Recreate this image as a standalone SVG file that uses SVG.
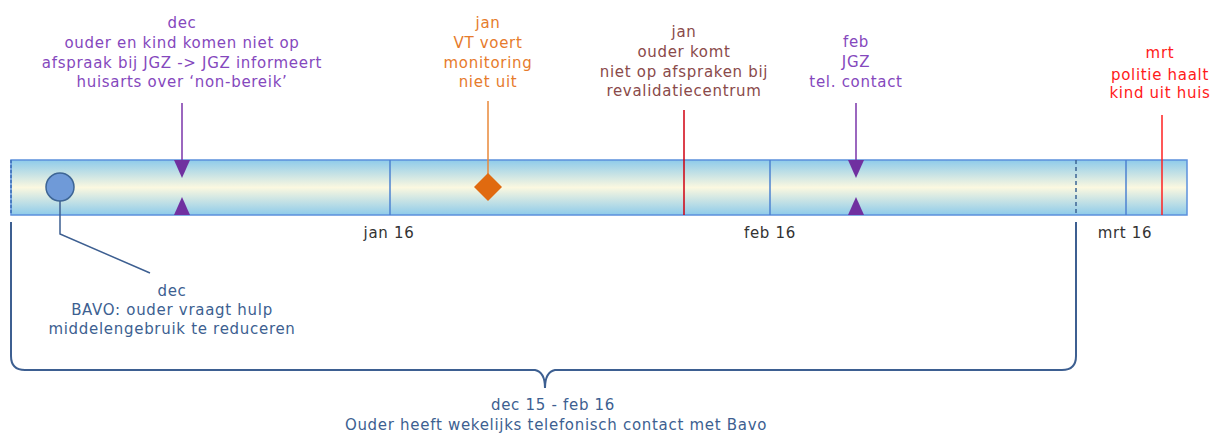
<svg xmlns="http://www.w3.org/2000/svg" width="1215" height="434" viewBox="0 0 1215 434">
<defs>
<linearGradient id="barGrad" x1="0" y1="0" x2="0" y2="1">
<stop offset="0" stop-color="#8ecbea"/>
<stop offset="0.5" stop-color="#fbf8e0"/>
<stop offset="1" stop-color="#8ecbea"/>
</linearGradient>
</defs>
<style>
text{font-family:"DejaVu Sans",Verdana,sans-serif;font-size:15px;letter-spacing:0.7px;text-anchor:middle}
.purple{fill:#8548bd}
.orange{fill:#e67b2c}
.brown{fill:#8a4a4a}
.red{fill:#ff1a1a}
.blue{fill:#3d5f91}
.axis{fill:#333333}
.sep{stroke:#4d82d0;stroke-width:1.5}
</style>
<g id="timeline">
<rect x="11" y="160" width="1176" height="55" fill="url(#barGrad)" stroke="#5b90dc" stroke-width="1.5"/>
<line x1="11" y1="160" x2="11" y2="215" stroke="#3d6fb8" stroke-width="1.5" stroke-dasharray="3,2"/>
<line class="sep" x1="390" y1="160" x2="390" y2="215"/>
<line class="sep" x1="770" y1="160" x2="770" y2="215"/>
<line x1="1076" y1="160" x2="1076" y2="215" stroke="#3d6595" stroke-width="1.5" stroke-dasharray="4,3"/>
<line class="sep" x1="1126" y1="160" x2="1126" y2="215"/>
<text class="axis" x="389" y="238">jan 16</text>
<text class="axis" x="770" y="238">feb 16</text>
<text class="axis" x="1125" y="238">mrt 16</text>
</g>
<g id="connectors">
<polyline points="60,201 60,234 150,273" fill="none" stroke="#3d5f91" stroke-width="1.5"/>
<line x1="182" y1="103" x2="182" y2="162" stroke="#7a35aa" stroke-width="1.5"/>
<line x1="488" y1="101" x2="488" y2="176" stroke="#e8883a" stroke-width="1.5"/>
<line x1="684" y1="110" x2="684" y2="215" stroke="#d00010" stroke-width="1.5"/>
<line x1="856" y1="103" x2="856" y2="162" stroke="#7a35aa" stroke-width="1.5"/>
<line x1="1162" y1="115" x2="1162" y2="215" stroke="#ff2020" stroke-width="1.5"/>
<path d="M11,222 V356 Q11,370 25,370 H535 Q545,372 545,388 Q545,372 555,370 H1062 Q1076,370 1076,356 V222" fill="none" stroke="#3d5f91" stroke-width="2"/>
</g>
<g id="node-bavo">
<circle cx="60" cy="187" r="14" fill="#6f9ad8" stroke="#3d6595" stroke-width="1.5"/>
<text class="blue" x="172" y="296">dec</text>
<text class="blue" x="172" y="315">BAVO: ouder vraagt hulp</text>
<text class="blue" x="172" y="334">middelengebruik te reduceren</text>
</g>
<g id="node-jgz-dec">
<polygon points="174,160 190,160 182,178" fill="#7030a0"/>
<polygon points="174,215 190,215 182,197" fill="#7030a0"/>
<text class="purple" x="182" y="28">dec</text>
<text class="purple" x="182" y="48">ouder en kind komen niet op</text>
<text class="purple" x="182" y="68">afspraak bij JGZ -&gt; JGZ informeert</text>
<text class="purple" x="182" y="87">huisarts over ‘non-bereik’</text>
</g>
<g id="node-vt">
<polygon points="488,173 502,187 488,201 474,187" fill="#e06a10"/>
<text class="orange" x="488" y="28">jan</text>
<text class="orange" x="488" y="48">VT voert</text>
<text class="orange" x="488" y="68">monitoring</text>
<text class="orange" x="488" y="87">niet uit</text>
</g>
<g id="node-revalidatie">
<text class="brown" x="684" y="37">jan</text>
<text class="brown" x="684" y="57">ouder komt</text>
<text class="brown" x="684" y="77">niet op afspraken bij</text>
<text class="brown" x="684" y="96">revalidatiecentrum</text>
</g>
<g id="node-jgz-feb">
<polygon points="848,160 864,160 856,178" fill="#7030a0"/>
<polygon points="848,215 864,215 856,197" fill="#7030a0"/>
<text class="purple" x="856" y="47">feb</text>
<text class="purple" x="856" y="67">JGZ</text>
<text class="purple" x="856" y="87">tel. contact</text>
</g>
<g id="node-politie">
<text class="red" x="1160" y="58">mrt</text>
<text class="red" x="1160" y="80">politie haalt</text>
<text class="red" x="1160" y="98">kind uit huis</text>
</g>
<g id="node-period">
<text class="blue" x="553" y="410">dec 15 - feb 16</text>
<text class="blue" x="556" y="430">Ouder heeft wekelijks telefonisch contact met Bavo</text>
</g>
</svg>
